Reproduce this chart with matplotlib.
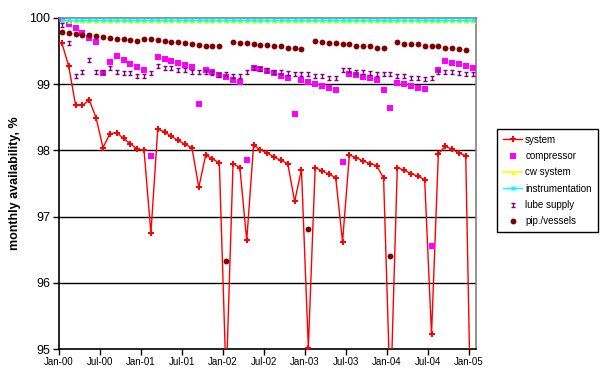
import numpy as np
import matplotlib
matplotlib.use('Agg')
from matplotlib import pyplot as plt
from matplotlib.path import Path

plt.rcParams['font.family'] = ['Liberation Sans', 'DejaVu Sans']

nan = np.nan

# monthly values Jan-00 .. Jan-05 (61 months)
tick_labels = ['Jan-00', 'Jul-00', 'Jan-01', 'Jul-01', 'Jan-02', 'Jul-02',
               'Jan-03', 'Jul-03', 'Jan-04', 'Jul-04', 'Jan-05']

system = [99.62, 99.27, 98.68, 98.68, 98.76, 98.49, 98.04, 98.25, 98.27, 98.18, 98.10, 98.02,
          98.00, 96.75, 98.32, 98.28, 98.21, 98.15, 98.09, 98.04, 97.44, 97.93, 97.87, 97.81,
          94.50, 97.80, 97.74, 96.64, 98.08, 98.01, 97.96, 97.90, 97.85, 97.80, 97.23, 97.71,
          95.02, 97.74, 97.69, 97.64, 97.59, 96.62, 97.93, 97.89, 97.84, 97.80, 97.77, 97.58,
          94.20, 97.74, 97.70, 97.65, 97.61, 97.56, 95.22, 97.95, 98.06, 98.02, 97.96, 97.92,
          92.50]

compressor = [99.98, 99.91, 99.85, 99.77, 99.70, 99.63, 99.17, 99.34, 99.43, 99.37, 99.31, 99.26,
              99.21, 97.92, 99.41, 99.38, 99.35, 99.32, 99.29, 99.26, 98.70, 99.21, 99.18, 99.14,
              99.11, 99.06, 99.04, 97.85, 99.25, 99.23, 99.20, 99.17, 99.13, 99.10, 98.55, 99.06,
              99.04, 99.00, 98.97, 98.94, 98.91, 97.83, 99.16, 99.14, 99.11, 99.09, 99.06, 98.91,
              98.64, 99.02, 99.00, 98.97, 98.94, 98.92, 96.55, 99.21, 99.35, 99.32, 99.30, 99.27,
              99.25]

cw_system = [99.95, 99.95, 99.95, 99.95, 99.95, 99.95, 99.95, 99.95, 99.95, 99.95, 99.95, 99.95,
             99.95, 99.95, 99.95, 99.95, 99.95, 99.95, 99.95, 99.95, 99.95, 99.95, 99.95, 99.95,
             99.95, 99.95, 99.95, 99.95, 99.95, 99.95, 99.95, 99.95, 99.95, 99.95, 99.95, 99.95,
             99.95, 99.95, 99.95, 99.95, 99.95, 99.95, 99.95, 99.95, 99.95, 99.95, 99.95, 99.95,
             99.95, 99.95, 99.95, 99.95, 99.95, 99.95, 99.95, 99.95, 99.95, 99.95, 99.95, 99.95,
             99.95]

instrumentation = [99.97, 99.97, 99.97, 99.97, 99.97, 99.97, 99.97, 99.97, 99.97, 99.97, 99.97, 99.97,
                   99.97, 99.97, 99.97, 99.97, 99.97, 99.97, 99.97, 99.97, 99.97, 99.97, 99.97, 99.97,
                   99.97, 99.97, 99.97, 99.97, 99.97, 99.97, 99.97, 99.97, 99.97, 99.97, 99.97, 99.97,
                   99.97, 99.97, 99.97, 99.97, 99.97, 99.97, 99.97, 99.97, 99.97, 99.97, 99.97, 99.97,
                   99.97, 99.97, 99.97, 99.97, 99.97, 99.97, 99.97, 99.97, 99.97, 99.97, 99.97, 99.97,
                   99.97]

lube_supply = [99.89, 99.62, 99.12, 99.19, 99.36, 99.18, 99.19, 99.24, 99.18, 99.17, 99.17, 99.13,
               99.13, 99.17, 99.28, 99.25, 99.24, 99.22, 99.21, 99.19, 99.19, 99.18, 99.17, 99.14,
               99.15, 99.12, 99.12, 99.19, 99.24, 99.23, 99.21, 99.19, 99.18, 99.17, 99.16, 99.15,
               99.15, 99.13, 99.12, 99.10, 99.09, 99.21, 99.21, 99.19, 99.19, 99.17, 99.16, 99.15,
               99.15, 99.13, 99.12, 99.10, 99.09, 99.08, 99.10, 99.19, 99.19, 99.18, 99.17, 99.15,
               99.15]

pip_vessels = [99.79, 99.77, 99.76, 99.75, 99.75, 99.73, 99.72, 99.70, 99.69, 99.68, 99.67, 99.65,
               99.68, 99.68, 99.67, 99.66, 99.64, 99.63, 99.62, 99.61, 99.59, 99.58, 99.58, 99.57,
               96.33, 99.64, 99.62, 99.62, 99.61, 99.59, 99.59, 99.58, 99.57, 99.55, 99.55, 99.53,
               96.81, 99.65, 99.64, 99.62, 99.62, 99.61, 99.60, 99.58, 99.58, 99.57, 99.55, 99.55,
               96.41, 99.63, 99.61, 99.60, 99.60, 99.58, 99.57, 99.57, 99.55, 99.54, 99.53, 99.52,
               nan]

# months since Jan-00, each point sits in the middle of its month
x = np.arange(len(system)) + 0.5

# I-beam marker for the lube supply series
ibeam = Path([(-1, 1), (1, 1), (0, 1), (0, -1), (-1, -1), (1, -1)],
             [Path.MOVETO, Path.LINETO, Path.MOVETO, Path.LINETO, Path.MOVETO, Path.LINETO])

fig = plt.figure(figsize=(6.04, 3.76), dpi=100)
ax = fig.add_axes([58.5 / 604, 1 - 349 / 376, (476 - 58.5) / 604, (349 - 18) / 376])

for yv in [96, 97, 98, 99]:
    ax.axhline(yv, color='black', linewidth=1, zorder=1)

ax.plot(x, system, color='#ff0000', linewidth=1, marker='P', markersize=5, markeredgewidth=0,
        label='system', zorder=3)
ax.plot(x, compressor, linestyle='none', marker='s', markersize=4, color='#ff00ff',
        markeredgewidth=0, label='compressor', zorder=4)
ax.plot(x, cw_system, color='#ffff00', linewidth=1.2, marker='^', markersize=3.5,
        markeredgewidth=0, label='cw system', zorder=4)
ax.plot(x, instrumentation, color='#00ffff', linewidth=1, marker='x', markersize=3,
        markeredgewidth=1, label='instrumentation', zorder=5)
ax.plot(x, lube_supply, linestyle='none', marker=ibeam, markersize=3.5, markerfacecolor='none',
        markeredgecolor='#800080', markeredgewidth=1, label='lube supply', zorder=6)
ax.plot(x, pip_vessels, linestyle='none', marker='o', markersize=4.2, color='#800000',
        markeredgewidth=0, label='pip./vessels', zorder=7)

ax.set_xlim(0, 61)
ax.set_ylim(95, 100)
ax.set_xticks(np.arange(0, 61, 6))
ax.set_xticklabels(tick_labels, fontsize=7)
ax.set_yticks([95, 96, 97, 98, 99, 100])
ax.set_yticklabels(['95', '96', '97', '98', '99', '100'], fontsize=9)
ax.tick_params(axis='both', direction='out', length=4, width=1, color='black', pad=2)
ax.set_ylabel('monthly availability, %', fontsize=9, fontweight='bold', labelpad=6)

ax.spines['left'].set_color('black')
ax.spines['bottom'].set_color('black')
ax.spines['top'].set_color('#808080')
ax.spines['right'].set_color('#808080')
for s in ax.spines.values():
    s.set_linewidth(1.2)

leg = fig.legend(loc='upper left', bbox_to_anchor=(497 / 604, 1 - 129 / 376), fontsize=7,
                 frameon=True, fancybox=False, edgecolor='black', framealpha=1,
                 handlelength=2.0, handletextpad=0.3, labelspacing=0.65, borderpad=0.6,
                 borderaxespad=0)
leg.get_frame().set_linewidth(1)

fig.savefig('out.png', dpi=100)
